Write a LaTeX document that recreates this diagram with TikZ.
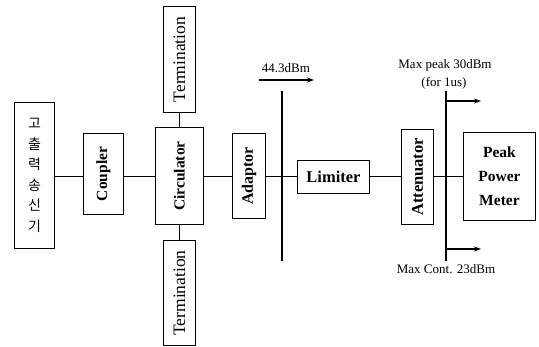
\documentclass[tikz,border=0pt]{standalone}
\usepackage{fontspec}
\setmainfont{Liberation Serif}
\newfontfamily\cjk{Noto Sans CJK KR}
\usetikzlibrary{arrows.meta}
\begin{document}
\begin{tikzpicture}[x=1pt,y=-1pt,
  blk/.style={draw, line width=0.9pt, inner sep=0pt, anchor=north west},
  rlab/.style={rotate=90},
  wire/.style={line width=0.8pt},
  bar/.style={line width=1.6pt},
  arr/.style={line width=1.6pt, -{Stealth[length=7pt,width=5pt]}},
  lbl/.style={font=\fontsize{13}{15}\selectfont, inner sep=0pt}]
\useasboundingbox (0,0) rectangle (539,347);
% blocks
\node[blk, minimum width=40pt, minimum height=146pt, align=center,
  font=\cjk\fontsize{14}{20.5}\selectfont] (tx) at (14,102) {고\\출\\력\\송\\신\\기};
\node[blk, minimum width=40pt, minimum height=81pt] (cpl) at (83,133) {};
\node[rlab, font=\bfseries\fontsize{15.5}{17}\selectfont] at (cpl.center) {Coupler};
\node[blk, minimum width=48pt, minimum height=97pt] (cir) at (155,127) {};
\node[rlab, font=\bfseries\fontsize{15.5}{18}\selectfont] at (cir.center) {Circulator};
\node[blk, minimum width=32pt, minimum height=106pt] (tt) at (163,6) {};
\node[rlab, font=\fontsize{17.5}{19}\selectfont] at (tt.center) {Termination};
\node[blk, minimum width=32pt, minimum height=105pt] (tb) at (163,240) {};
\node[rlab, font=\fontsize{17.5}{19}\selectfont] at (tb.center) {Termination};
\node[blk, minimum width=33pt, minimum height=85pt] (adp) at (232,133) {};
\node[rlab, font=\bfseries\fontsize{16}{18}\selectfont] at (adp.center) {Adaptor};
\node[blk, minimum width=72pt, minimum height=33pt, font=\bfseries\fontsize{16.5}{18}\selectfont] (lim) at (297,160) {Limiter};
\node[blk, minimum width=32pt, minimum height=95pt] (att) at (401,129) {};
\node[rlab, font=\bfseries\fontsize{16.5}{18}\selectfont] at (att.center) {Attenuator};
\node[blk, minimum width=72pt, minimum height=88pt, align=center,
  font=\bfseries\fontsize{15.5}{24}\selectfont] (ppm) at (463,132) {Peak\\Power\\Meter};
% connectors
\draw[wire] (tx.east |- 0,176) -- (cpl.west |- 0,176);
\draw[wire] (cpl.east |- 0,176) -- (cir.west |- 0,176);
\draw[wire] (cir.east |- 0,176) -- (adp.west |- 0,176);
\draw[wire] (adp.east |- 0,176) -- (lim.west |- 0,176);
\draw[wire] (lim.east |- 0,176) -- (att.west |- 0,176);
\draw[wire] (att.east |- 0,176) -- (ppm.west |- 0,176);
\draw[wire] (tt.south) -- (cir.north -| tt.south);
\draw[wire] (cir.south -| tb.north) -- (tb.north);
% bars
\coordinate (b1t) at (282,91); \coordinate (b1b) at (282,261);
\coordinate (b2t) at (446,91); \coordinate (b2b) at (446,261);
\draw[bar] (b1t) -- (b1b);
\draw[bar] (b2t) -- (b2b);
% arrows
\coordinate (a1s) at (259,80); \coordinate (a1e) at (314,80);
\draw[arr] (a1s) -- (a1e);
\coordinate (a2s) at (446,101); \coordinate (a2e) at (481,101);
\draw[arr] (a2s) -- (a2e);
\coordinate (a3s) at (446,249); \coordinate (a3e) at (481,249);
\draw[arr] (a3s) -- (a3e);
% labels
\node[lbl] (l1) at (286,68) {44.3dBm};
\node[lbl] (l2) at (445,65) {Max peak 30dBm};
\node[lbl] (l3) at (444,83) {(for 1us)};
\node[lbl] (l4) at (446,269) {Max Cont. 23dBm};
\end{tikzpicture}
\end{document}
